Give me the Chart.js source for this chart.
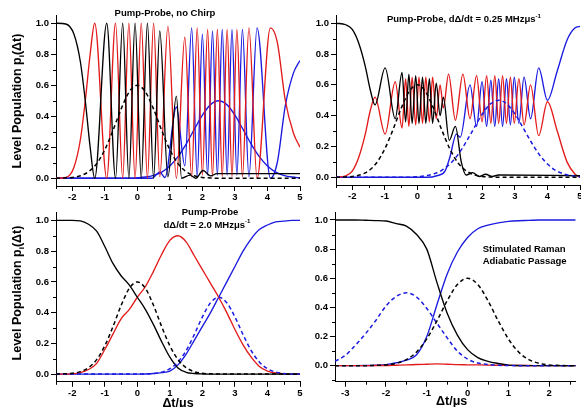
<!DOCTYPE html>
<html>
<head>
<meta charset="utf-8">
<script src="https://cdn.jsdelivr.net/npm/chart.js@4"></script>
<style>
  body { margin: 0; background: #fff; overflow: hidden; }
  #wrap { position: relative; width: 581px; height: 407px; overflow: hidden; }
  canvas { position: absolute; }
</style>
</head>
<body>
<div id="wrap">
  <canvas id="c1" width="310" height="205" style="left:0;top:0"></canvas>
  <canvas id="c2" width="300" height="205" style="left:290px;top:0"></canvas>
  <canvas id="c3" width="310" height="202" style="left:0;top:205px"></canvas>
  <canvas id="c4" width="300" height="202" style="left:290px;top:205px"></canvas>
</div>
<script>
// ---- data ----
// common time grid for the pump-probe panels (dt in us)
const gridA = [-2.5, -2.25, -2, -1.75, -1.5, -1.25, -1, -0.75, -0.5, -0.25, 0, 0.25, 0.5, 0.75, 1,
  1.25, 1.5, 1.75, 2, 2.25, 2.5, 2.75, 3, 3.25, 3.5, 3.75, 4, 4.25, 4.5, 4.75, 5];
// pump pulse (dashed black), same in the three pump-probe panels
const pumpA = [0, 0.002, 0.005, 0.016, 0.042, 0.094, 0.184, 0.308, 0.446, 0.557, 0.6, 0.557, 0.446,
  0.308, 0.184, 0.094, 0.042, 0.016, 0.005, 0.002, 0, 0, 0, 0, 0, 0, 0, 0, 0, 0, 0];

// panel 1: pump-probe, no chirp
const p1Probe = [0, 0, 0, 0, 0, 0, 0, 0, 0, 0, 0.003, 0.008, 0.019, 0.04, 0.079, 0.139, 0.22, 0.315,
  0.407, 0.475, 0.5, 0.475, 0.407, 0.315, 0.22, 0.139, 0.079, 0.04, 0.019, 0.008, 0.003];
const p1X1 = [-2.5, -2.2, -1.95, -1.75, -1.6, -1.45, -1.31, -0.94, -0.67, -0.45, -0.26, -0.07, 0.12,
  0.31, 0.5, 0.69, 0.94, 1.2, 1.36, 1.62, 1.8, 2.02, 2.25, 2.45, 5];
const p1Pop1 = [1, 0.995, 0.93, 0.75, 0.5, 0.2, 0, 1, 0, 1, 0, 1, 0, 1, 0, 0.95, 0.01, 0.53, 0, 0.02,
  0, 0.05, 0.015, 0.03, 0.03];
const p1X2 = [-2.5, -2.2, -1.95, -1.75, -1.6, -1.45, -1.31, -0.94, -0.67, -0.45, -0.26, -0.07, 0.12,
  0.31, 0.5, 0.69, 0.94, 1.2, 1.46, 1.67, 1.84, 2.0, 2.16, 2.31, 2.46, 2.61, 2.76, 2.91, 3.06, 3.23,
  3.43, 3.68, 4.09, 4.3, 4.55, 4.8, 5];
const p1Pop2 = [0, 0.005, 0.07, 0.25, 0.5, 0.8, 1, 0, 1, 0, 1, 0, 1, 0, 1, 0.01, 0.98, 0, 0.91, 0.01,
  0.97, 0.02, 0.96, 0.01, 0.96, 0.01, 0.96, 0.01, 0.96, 0.01, 0.97, 0, 0.97, 0.88, 0.5, 0.29, 0.2];
const p1X3 = [-2.5, 0.45, 0.69, 0.85, 1.2, 1.46, 1.67, 1.84, 2.0, 2.16, 2.31, 2.46, 2.61, 2.76, 2.91,
  3.06, 3.23, 3.43, 3.68, 4.09, 4.3, 4.55, 4.8, 5];
const p1Pop3 = [0, 0, 0.04, 0.005, 0.46, 0.08, 0.97, 0.01, 0.93, 0.02, 0.95, 0.02, 0.96, 0.02, 0.96,
  0.02, 0.96, 0.01, 0.97, 0, 0.1, 0.47, 0.68, 0.76];

// panel 2: chirp 0.25 MHz/us
const p2Probe = [0, 0, 0, 0, 0, 0, 0, 0, 0, 0, 0.004, 0.01, 0.022, 0.045, 0.086, 0.147, 0.229, 0.322,
  0.411, 0.476, 0.5, 0.476, 0.411, 0.322, 0.229, 0.147, 0.086, 0.045, 0.022, 0.01, 0.004];
const p2X1 = [-2.5, -2.2, -2.0, -1.8, -1.6, -1.45, -1.3, -0.99, -0.68, -0.47, -0.36, -0.26, -0.16,
  -0.05, 0.05, 0.16, 0.26, 0.37, 0.47, 0.58, 0.7, 0.8, 0.98, 1.17, 1.35, 1.5, 1.7, 1.9, 2.1, 2.3, 2.5, 5];
const p2Pop1 = [1, 0.99, 0.96, 0.87, 0.72, 0.57, 0.47, 0.71, 0.38, 0.68, 0.36, 0.67, 0.35, 0.66, 0.35,
  0.65, 0.35, 0.64, 0.35, 0.61, 0.4, 0.52, 0.24, 0.33, 0.1, 0.015, 0.03, 0.005, 0.02, 0.005, 0.015, 0.01];
const p2X2 = [-2.5, -2.2, -2.0, -1.8, -1.6, -1.45, -1.3, -0.99, -0.68, -0.47, -0.36, -0.26, -0.16,
  -0.05, 0.05, 0.16, 0.26, 0.37, 0.47, 0.58, 0.7, 0.8, 0.96, 1.17, 1.4, 1.62, 1.82, 1.99, 2.13, 2.26,
  2.38, 2.5, 2.62, 2.74, 2.86, 2.98, 3.12, 3.28, 3.48, 3.73, 4.0, 4.3, 4.6, 4.85, 5];
const p2Pop2 = [0, 0.01, 0.04, 0.13, 0.28, 0.43, 0.52, 0.28, 0.62, 0.32, 0.64, 0.33, 0.65, 0.34, 0.65,
  0.35, 0.65, 0.36, 0.65, 0.38, 0.6, 0.45, 0.67, 0.37, 0.67, 0.38, 0.66, 0.36, 0.66, 0.35, 0.66, 0.35,
  0.66, 0.35, 0.65, 0.35, 0.64, 0.34, 0.6, 0.27, 0.49, 0.3, 0.1, 0.02, 0];
const p2X3 = [-2.5, 0.3, 0.6, 0.85, 1.0, 1.2, 1.32, 1.62, 1.82, 1.99, 2.13, 2.26, 2.38, 2.5, 2.62, 2.74,
  2.86, 2.98, 3.12, 3.28, 3.48, 3.73, 4.0, 4.3, 4.6, 4.85, 5];
const p2Pop3 = [0, 0, 0.01, 0.04, 0.13, 0.28, 0.26, 0.6, 0.33, 0.62, 0.33, 0.63, 0.33, 0.64, 0.33, 0.64,
  0.34, 0.65, 0.35, 0.65, 0.38, 0.71, 0.5, 0.69, 0.89, 0.97, 0.98];

// panel 3: chirp 2.0 MHz/us
const p3Probe = [0, 0, 0, 0, 0, 0, 0, 0, 0, 0, 0, 0.001, 0.004, 0.013, 0.035, 0.079, 0.153, 0.257,
  0.372, 0.464, 0.5, 0.464, 0.372, 0.257, 0.153, 0.079, 0.035, 0.013, 0.004, 0.001, 0];
const p3Pop1 = [1, 1, 1, 0.997, 0.975, 0.93, 0.83, 0.72, 0.64, 0.58, 0.5, 0.42, 0.32, 0.21, 0.11, 0.04,
  0.012, 0.004, 0.001, 0, 0, 0, 0, 0, 0, 0, 0, 0, 0, 0, 0];
const p3Pop2 = [0, 0, 0.002, 0.01, 0.03, 0.07, 0.16, 0.26, 0.36, 0.42, 0.5, 0.57, 0.67, 0.78, 0.87, 0.9,
  0.86, 0.77, 0.68, 0.59, 0.5, 0.4, 0.29, 0.19, 0.11, 0.05, 0.02, 0.007, 0.002, 0, 0];
const p3Pop3 = [0, 0, 0, 0, 0, 0, 0, 0, 0, 0, 0, 0.001, 0.004, 0.01, 0.02, 0.06, 0.13, 0.22, 0.31, 0.4,
  0.5, 0.6, 0.7, 0.8, 0.88, 0.94, 0.97, 0.99, 0.995, 1, 1];

// panel 4: STIRAP
const gridB = [-3.25, -3, -2.75, -2.5, -2.25, -2, -1.75, -1.5, -1.25, -1, -0.75, -0.5, -0.25, 0, 0.25,
  0.5, 0.75, 1, 1.25, 1.5, 1.75, 2, 2.25, 2.5, 2.65];
const p4Pump = [0, 0, 0, 0, 0.002, 0.005, 0.016, 0.042, 0.094, 0.184, 0.308, 0.446, 0.557, 0.6, 0.557,
  0.446, 0.308, 0.184, 0.094, 0.042, 0.016, 0.005, 0.002, 0, 0];
const p4Stokes = [0.03, 0.07, 0.14, 0.22, 0.31, 0.41, 0.475, 0.5, 0.471, 0.393, 0.291, 0.191, 0.1, 0.045,
  0.018, 0.008, 0.003, 0.001, 0, 0, 0, 0, 0, 0, 0];
const p4Pop1 = [1, 1, 1, 0.998, 0.996, 0.993, 0.975, 0.958, 0.9, 0.8, 0.57, 0.36, 0.21, 0.11, 0.055,
  0.03, 0.015, 0.004, 0.001, 0, 0, 0, 0, 0, 0];
const p4Pop2 = [0, 0, 0, 0, 0.001, 0.001, 0.003, 0.005, 0.008, 0.01, 0.012, 0.01, 0.007, 0.006, 0.005,
  0.004, 0.003, 0.002, 0.001, 0.001, 0, 0, 0, 0, 0];
const p4Pop3 = [0, 0, 0, 0.001, 0.003, 0.007, 0.02, 0.038, 0.075, 0.2, 0.42, 0.63, 0.78, 0.88, 0.94,
  0.965, 0.98, 0.99, 0.995, 0.997, 1, 1, 1, 1, 1];

// ---- drawing ----
const FONT = "Arial, 'Liberation Sans', sans-serif";
const BLACK = '#000000';
const RED = '#e31a1a';
const BLUE = '#1a1ae0';

function pts(xs, ys) {
  return xs.map((x, i) => ({ x: x, y: ys[i] }));
}

function line(xs, ys, color, dashed) {
  return {
    data: pts(xs, ys),
    borderColor: color,
    borderWidth: dashed ? 1.5 : 1.35,
    borderDash: dashed ? [4, 3] : [],
    pointRadius: 0,
    cubicInterpolationMode: 'monotone',
    fill: false
  };
}

// short ticks half way between the labelled ones
const minorTicks = {
  id: 'minorTicks',
  afterDraw(chart) {
    const ctx = chart.ctx;
    ctx.save();
    ctx.strokeStyle = BLACK;
    ctx.lineWidth = 1;
    ctx.beginPath();
    ['x', 'y'].forEach(id => {
      const s = chart.scales[id];
      const vals = s.ticks.map(t => t.value);
      const half = (vals[1] - vals[0]) / 2;
      const mids = [vals[0] - half].concat(vals.map(v => v + half));
      mids.forEach(m => {
        if (m < s.min - 1e-9 || m > s.max + 1e-9) return;
        const p = Math.round(s.getPixelForValue(m)) + 0.5;
        if (id === 'x') { ctx.moveTo(p, s.top); ctx.lineTo(p, s.top + 3); }
        else { ctx.moveTo(s.right, p); ctx.lineTo(s.right - 3, p); }
      });
    });
    ctx.stroke();
    ctx.restore();
  }
};

function drawRich(ctx, n) {
  ctx.save();
  ctx.translate(n.x, n.y);
  if (n.rot) ctx.rotate(-Math.PI / 2);
  ctx.fillStyle = BLACK;
  ctx.textBaseline = 'middle';
  ctx.textAlign = 'left';
  const sizes = n.parts.map(p => (p[1] ? n.size * 0.65 : n.size));
  let total = 0;
  n.parts.forEach((p, i) => {
    ctx.font = 'bold ' + sizes[i] + 'px ' + FONT;
    total += ctx.measureText(p[0]).width;
  });
  let cx = n.align === 'left' ? 0 : -total / 2;
  n.parts.forEach((p, i) => {
    ctx.font = 'bold ' + sizes[i] + 'px ' + FONT;
    const dy = p[1] === 'sub' ? n.size * 0.3 : p[1] === 'sup' ? -n.size * 0.35 : 0;
    ctx.fillText(p[0], cx, dy);
    cx += ctx.measureText(p[0]).width;
  });
  ctx.restore();
}

function notes(items) {
  return { id: 'notes', afterDraw(chart) { items.forEach(n => drawRich(chart.ctx, n)); } };
}

function scales(xmin, xmax, ymin, ymax, yWidth, xHeight) {
  const tickFont = { family: FONT, size: 9.5, weight: 'bold' };
  const grid = { drawOnChartArea: false, tickLength: 5, color: BLACK };
  const border = { display: true, color: BLACK, width: 1 };
  return {
    x: {
      type: 'linear', min: xmin, max: xmax,
      ticks: { stepSize: 1, includeBounds: false, autoSkip: false, maxRotation: 0, padding: 1,
        color: BLACK, font: tickFont, callback: v => String(v) },
      grid: grid, border: border,
      afterFit: s => { s.height = xHeight; }
    },
    y: {
      type: 'linear', min: ymin, max: ymax,
      ticks: { stepSize: 0.2, includeBounds: false, padding: 2, color: BLACK, font: tickFont,
        callback: v => v.toFixed(1) },
      grid: grid, border: border,
      afterFit: s => { s.width = yWidth; }
    }
  };
}

function panel(id, datasets, sc, padding, items) {
  new Chart(document.getElementById(id), {
    type: 'line',
    data: { datasets: datasets },
    options: {
      responsive: false,
      animation: false,
      devicePixelRatio: 1,
      layout: { padding: padding },
      plugins: { legend: { display: false }, tooltip: { enabled: false } },
      scales: sc
    },
    plugins: [minorTicks, notes(items)]
  });
}

const yTitle = [['Level Population p'], ['i', 'sub'], ['(\u0394t)']];

panel('c1', [
  line(gridA, pumpA, BLACK, true),
  line(p1X1, p1Pop1, BLACK),
  line(p1X2, p1Pop2, RED),
  line(p1X3, p1Pop3, BLUE),
  line(gridA, p1Probe, BLUE)
], scales(-2.5, 5, -0.05, 1.05, 56, 19), { left: 0, top: 15.5, right: 10, bottom: 0 }, [
  { x: 165, y: 13, size: 9.5, parts: [['Pump-Probe, no Chirp']] },
  { x: 18, y: 101, size: 12.5, rot: true, parts: yTitle }
]);

panel('c2', [
  line(gridA, pumpA, BLACK, true),
  line(gridA, p2Probe, BLUE, true),
  line(p2X1, p2Pop1, BLACK),
  line(p2X2, p2Pop2, RED),
  line(p2X3, p2Pop3, BLUE)
], scales(-2.5, 5, -0.05, 1.05, 46, 20), { left: 0, top: 15.5, right: 10, bottom: 0 }, [
  { x: 174, y: 19.5, size: 9.5, parts: [['Pump-Probe, d\u0394/dt = 0.25 MHz\u03bcs'], ['-1', 'sup']] }
]);

panel('c3', [
  line(gridA, pumpA, BLACK, true),
  line(gridA, p3Probe, BLUE, true),
  line(gridA, p3Pop1, BLACK),
  line(gridA, p3Pop2, RED),
  line(gridA, p3Pop3, BLUE)
], scales(-2.5, 5, -0.05, 1.05, 56, 25.2), { left: 0, top: 5.5, right: 10, bottom: 0 }, [
  { x: 210, y: 7, size: 9.5, parts: [['Pump-Probe']] },
  { x: 207, y: 20, size: 9.5, parts: [['d\u0394/dt = 2.0 MHz\u03bcs'], ['-1', 'sup']] },
  { x: 18, y: 88, size: 12.5, rot: true, parts: yTitle },
  { x: 178, y: 199, size: 12.5, parts: [['\u0394t/\u03bcs']] }
]);

panel('c4', [
  line(gridB, p4Pump, BLACK, true),
  line(gridB, p4Stokes, BLUE, true),
  line(gridB, p4Pop1, BLACK),
  line(gridB, p4Pop2, RED),
  line(gridB, p4Pop3, BLUE)
], scales(-3.25, 2.65, -0.11, 1.05, 45, 25.3), { left: 0, top: 5.7, right: 14.3, bottom: 0 }, [
  { x: 192.7, y: 44.3, size: 9.5, align: 'left', parts: [['Stimulated Raman']] },
  { x: 192.7, y: 56.7, size: 9.5, align: 'left', parts: [['Adiabatic Passage']] },
  { x: 161.7, y: 197, size: 12.5, parts: [['\u0394t/\u03bcs']] }
]);
</script>
</body>
</html>
